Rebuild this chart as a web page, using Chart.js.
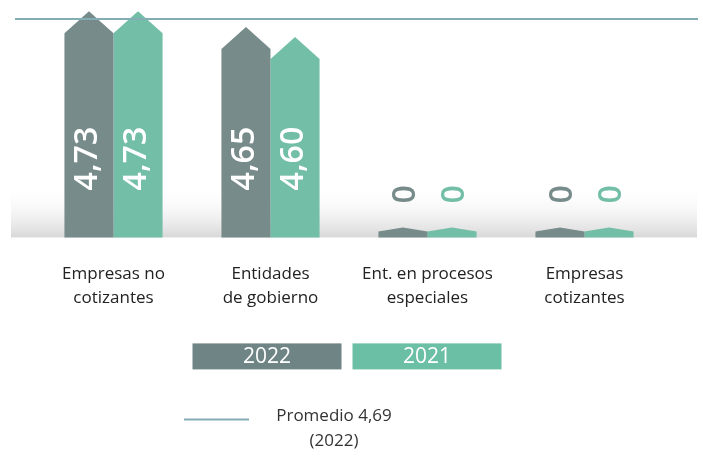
<!DOCTYPE html>
<html>
<head>
<meta charset="utf-8">
<script src="https://cdn.jsdelivr.net/npm/chart.js@4/dist/chart.umd.min.js"></script>
<style>
  html, body { margin: 0; padding: 0; background: #fff; }
  #wrap { width: 703px; height: 465px; position: relative; }
</style>
</head>
<body>
<div id="wrap"><canvas id="dataChart"></canvas></div>
<script>
// categorias y valores
const categories = [
	['Empresas no', 'cotizantes'],
	['Entidades', 'de gobierno'],
	['Ent. en procesos', 'especiales'],
	['Empresas', 'cotizantes']
];
const seriesNames = ['2022', '2021'];
const values2022 = [4.73, 4.65, 0, 0];
const values2021 = [4.73, 4.60, 0, 0];
const valueLabels2022 = ['4,73', '4,65', '0', '0'];
const valueLabels2021 = ['4,73', '4,60', '0', '0'];
const promedio = 4.69;
const promedioLabel = ['Promedio 4,69', '(2022)'];
const yMin = 3.594, yMax = 4.786;

const barColors = ['#778b8b', '#72bea6'];
const legendColors = ['#6f8585', '#6bbfa5'];
const lineColor = '#82adb5';
const FONT = '"Open Sans", Lato, sans-serif';

// fondo gris degradado y linea de promedio
const backdrop = {
	id: 'backdrop',
	beforeDatasetsDraw(chart) {
		const { ctx, chartArea } = chart;
		const g = ctx.createLinearGradient(0, chartArea.bottom - 52, 0, chartArea.bottom);
		g.addColorStop(0, 'rgba(255,255,255,0)');
		g.addColorStop(1, '#d8d8d8');
		ctx.save();
		ctx.fillStyle = g;
		ctx.fillRect(chartArea.left - 24, chartArea.bottom - 52, chartArea.width + 58, 52);
		ctx.restore();
	},
	afterDatasetsDraw(chart) {
		const { ctx, chartArea, scales } = chart;
		const y = scales.y.getPixelForValue(promedio);
		ctx.save();
		ctx.strokeStyle = lineColor;
		ctx.lineWidth = 2;
		ctx.beginPath();
		ctx.moveTo(chartArea.left - 20, y);
		ctx.lineTo(chartArea.right + 35, y);
		ctx.stroke();
		ctx.restore();
	}
};

// barras en forma de flecha
const arrowBars = {
	id: 'arrowBars',
	beforeDatasetDraw(chart, args) {
		const { ctx } = chart;
		const meta = args.meta;
		const color = barColors[args.index];
		ctx.save();
		meta.data.forEach((el) => {
			const p = el.getProps(['x', 'y', 'base', 'width'], true);
			const half = p.width / 2;
			let peak = p.y;
			let shoulder = peak + 22;
			if (peak > p.base - 10) {
				// valor cero: solo un pequeño talon
				peak = p.base - 10;
				shoulder = p.base - 6;
			}
			ctx.fillStyle = color;
			ctx.beginPath();
			ctx.moveTo(p.x - half, p.base);
			ctx.lineTo(p.x - half, shoulder);
			ctx.lineTo(p.x, peak);
			ctx.lineTo(p.x + half, shoulder);
			ctx.lineTo(p.x + half, p.base);
			ctx.closePath();
			ctx.fill();
		});
		ctx.restore();
		return false;
	},
	afterDatasetsDraw(chart) {
		const { ctx } = chart;
		chart.data.datasets.forEach((ds, i) => {
			const meta = chart.getDatasetMeta(i);
			meta.data.forEach((el, j) => {
				const p = el.getProps(['x', 'base'], true);
				const zero = ds.data[j] === 0;
				ctx.save();
				ctx.font = '600 32px ' + FONT;
				ctx.textBaseline = 'alphabetic';
				if (zero) {
					ctx.translate(p.x + 12, p.base - 43);
					ctx.rotate(-Math.PI / 2);
					ctx.textAlign = 'center';
					ctx.fillStyle = barColors[i];
				} else {
					ctx.translate(p.x + 8, p.base - 47);
					ctx.rotate(-Math.PI / 2);
					ctx.textAlign = 'left';
					ctx.fillStyle = '#ffffff';
				}
				ctx.fillText(ds.valueLabels[j], 0, 0);
				ctx.restore();
			});
		});
	}
};

// leyenda
const legendBoxes = {
	id: 'legendBoxes',
	afterDraw(chart) {
		const { ctx, chartArea } = chart;
		const cx = (chartArea.left + chartArea.right) / 2 - 2;
		const w = 149, h = 26, gap = 11;
		const top = chartArea.bottom + 106;
		ctx.save();
		seriesNames.forEach((name, i) => {
			const x = i === 0 ? cx - gap / 2 - w : cx + gap / 2;
			ctx.fillStyle = legendColors[i];
			ctx.fillRect(x, top, w, h);
			ctx.fillStyle = '#ffffff';
			ctx.font = '400 21px ' + FONT;
			ctx.textAlign = 'center';
			ctx.textBaseline = 'middle';
			ctx.fillText(name, x + w / 2, top + h / 2 + 1);
		});
		const ly = chartArea.bottom + 182;
		ctx.strokeStyle = lineColor;
		ctx.lineWidth = 2;
		ctx.beginPath();
		ctx.moveTo(cx - 163, ly);
		ctx.lineTo(cx - 98, ly);
		ctx.stroke();
		ctx.fillStyle = '#333333';
		ctx.font = '400 17px ' + FONT;
		ctx.textAlign = 'center';
		ctx.textBaseline = 'middle';
		ctx.fillText(promedioLabel[0], cx - 13, ly - 3);
		ctx.fillText(promedioLabel[1], cx - 13, ly + 22);
		ctx.restore();
	}
};

new Chart(document.getElementById('dataChart'), {
	type: 'bar',
	data: {
		labels: categories,
		datasets: [
			{ label: seriesNames[0], data: values2022, valueLabels: valueLabels2022, backgroundColor: barColors[0], base: yMin },
			{ label: seriesNames[1], data: values2021, valueLabels: valueLabels2021, backgroundColor: barColors[1], base: yMin }
		]
	},
	options: {
		responsive: true,
		maintainAspectRatio: false,
		animation: false,
		layout: { padding: { top: 0, left: 35, right: 40, bottom: 130 } },
		datasets: { bar: { categoryPercentage: 0.625, barPercentage: 1 } },
		plugins: { legend: { display: false }, tooltip: { enabled: false } },
		scales: {
			x: {
				grid: { display: false, drawTicks: false },
				border: { display: false },
				ticks: {
					padding: 25,
					color: '#222222',
					font: { family: FONT, size: 17, lineHeight: 1.4 },
					maxRotation: 0,
					autoSkip: false
				}
			},
			y: {
				display: false,
				min: yMin,
				max: yMax
			}
		}
	},
	plugins: [backdrop, arrowBars, legendBoxes]
});
</script>
</body>
</html>
